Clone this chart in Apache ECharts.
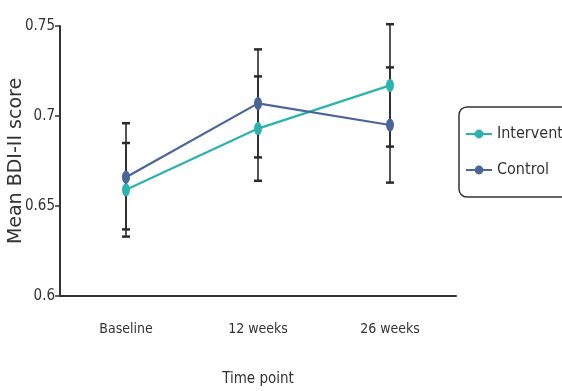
<!DOCTYPE html>
<html><head><meta charset="utf-8">
<script src="https://cdn.jsdelivr.net/npm/echarts@6/dist/echarts.min.js"></script>
<style>html,body{margin:0;padding:0;background:#fff}#c{width:562px;height:391px}</style>
</head><body><div id="c"></div>
<script>
const categories = ['Baseline', '12 weeks', '26 weeks'];
const interventionMean = [0.659, 0.693, 0.717];
const interventionLow = [0.633, 0.664, 0.683];
const interventionHigh = [0.685, 0.722, 0.751];
const controlMean = [0.666, 0.707, 0.695];
const controlLow = [0.637, 0.677, 0.663];
const controlHigh = [0.696, 0.737, 0.727];
const yTicks = [0.6, 0.65, 0.7, 0.75];

const tealC = '#2bb3ae', blueC = '#4a6597', barC = '#2a2a2a';
const narrow = '"DejaVu Sans Condensed", "Lato", sans-serif';

function errData(low, high) { return categories.map((c, i) => [i, low[i], high[i]]); }
function renderErr(params, api) {
  const x = api.value(0);
  const lo = api.coord([x, api.value(1)]);
  const hi = api.coord([x, api.value(2)]);
  const w = 4;
  const st = { stroke: barC, lineWidth: 1.6 };
  return { type: 'group', children: [
    { type: 'line', shape: { x1: lo[0], y1: lo[1], x2: hi[0], y2: hi[1] }, style: st },
    { type: 'line', shape: { x1: lo[0] - w, y1: lo[1], x2: lo[0] + w, y2: lo[1] }, style: { stroke: barC, lineWidth: 2.5 } },
    { type: 'line', shape: { x1: hi[0] - w, y1: hi[1], x2: hi[0] + w, y2: hi[1] }, style: { stroke: barC, lineWidth: 2.5 } }
  ]};
}

const chart = echarts.init(document.getElementById('c'), null, { renderer: 'canvas' });
chart.setOption({
  animation: false,
  grid: { left: 60, right: 106, top: 26, bottom: 95, containLabel: false, outerBoundsMode: 'none' },
  legend: {
    data: ['Intervention', 'Control'],
    orient: 'vertical', left: 459, top: 107,
    padding: [19, 40, 19, 6], itemGap: 20,
    itemWidth: 26, itemHeight: 11,
    borderColor: '#333', borderWidth: 1.5, borderRadius: 8,
    textStyle: { fontFamily: narrow, fontSize: 16, color: '#333' }
  },
  xAxis: {
    type: 'category', data: categories, boundaryGap: true,
    name: 'Time point', nameLocation: 'middle', nameGap: 76,
    nameTextStyle: { fontFamily: narrow, fontSize: 15, color: '#333' },
    axisLine: { lineStyle: { color: '#333', width: 2 } },
    axisTick: { alignWithLabel: true, length: 7, lineStyle: { color: '#555', width: 1.5 } },
    axisLabel: { fontFamily: narrow, fontSize: 14, color: '#333', margin: 26 }
  },
  yAxis: {
    type: 'value', min: 0.6, max: 0.75, interval: 0.05,
    name: 'Mean BDI-II score', nameLocation: 'middle', nameGap: 34, nameMoveOverlap: false,
    nameTextStyle: { fontFamily: '"DejaVu Sans", sans-serif', fontSize: 19, color: '#333' },
    axisLine: { show: true, lineStyle: { color: '#333', width: 2 } },
    axisTick: { show: true, length: 5, lineStyle: { color: '#333', width: 1.5 } },
    splitLine: { show: false },
    axisLabel: { fontFamily: narrow, fontSize: 15, color: '#333', margin: 5,
      formatter: v => { const t = yTicks.find(t => Math.abs(t - v) < 1e-9); return t === undefined ? '' : String(t); } }
  },
  series: [
    { type: 'custom', name: 'errI', renderItem: renderErr, data: errData(interventionLow, interventionHigh), z: 1, silent: true },
    { type: 'custom', name: 'errC', renderItem: renderErr, data: errData(controlLow, controlHigh), z: 1, silent: true },
    { type: 'line', name: 'Intervention', data: interventionMean, color: tealC,
      symbol: 'circle', symbolSize: [8, 13], lineStyle: { width: 2.2, color: tealC }, itemStyle: { color: tealC }, z: 3 },
    { type: 'line', name: 'Control', data: controlMean, color: blueC,
      symbol: 'circle', symbolSize: [8, 13], lineStyle: { width: 2.2, color: blueC }, itemStyle: { color: blueC }, z: 3 }
  ]
});
</script></body></html>
